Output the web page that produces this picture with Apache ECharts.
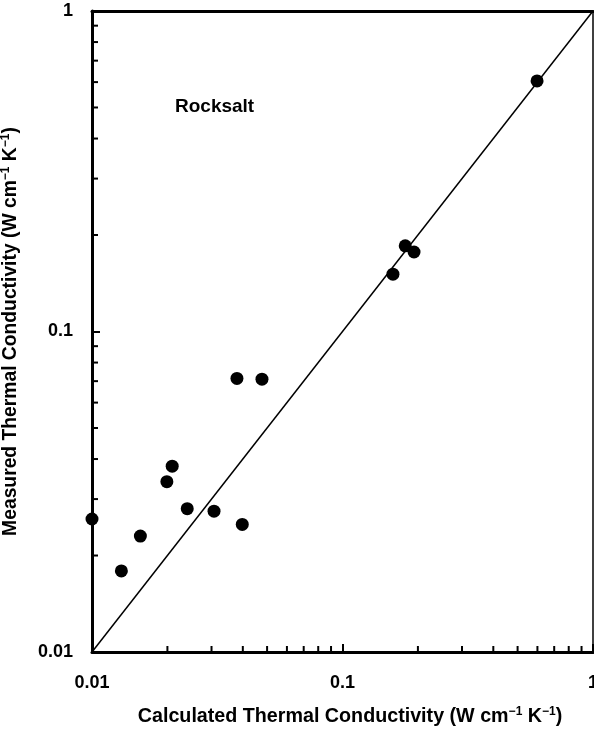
<!DOCTYPE html>
<html>
<head>
<meta charset="utf-8">
<script src="https://cdn.jsdelivr.net/npm/echarts@6/dist/echarts.min.js"></script>
<style>html,body{margin:0;padding:0;background:#fff;}#c{width:594px;height:735px;}</style>
</head>
<body>
<div id="c"></div>
<script>
// Data
const calcK = [0.0100, 0.0131, 0.0156, 0.0199, 0.0209, 0.0240, 0.0307, 0.0379, 0.0398, 0.0477, 0.159, 0.178, 0.193, 0.598];
const measK = [0.0260, 0.0179, 0.0230, 0.0340, 0.0380, 0.0280, 0.0275, 0.0714, 0.0250, 0.0710, 0.151, 0.185, 0.177, 0.605];
const diagX = [0.01, 1];
const diagY = [0.01, 1];
const majorTicks = [0.01, 0.1, 1];
const tickLabels = ['0.01', '0.1', '1'];
const minorTicks = [0.02, 0.03, 0.04, 0.05, 0.06, 0.07, 0.08, 0.09, 0.2, 0.3, 0.4, 0.5, 0.6, 0.7, 0.8, 0.9];

const FONT = '"Liberation Sans", Arial, sans-serif';
const chart = echarts.init(document.getElementById('c'), null, {renderer: 'canvas'});

function labelFmt(v) {
  for (let i = 0; i < majorTicks.length; i++) {
    if (Math.abs(Math.log10(v) - Math.log10(majorTicks[i])) < 1e-6) return tickLabels[i];
  }
  return '';
}

function richName(size) {
  return {
    b: {fontSize: size, fontWeight: 'bold', fontFamily: FONT, color: '#000', lineHeight: 22},
    s: {fontSize: 12, fontWeight: 'bold', fontFamily: FONT, color: '#000', lineHeight: 22, verticalAlign: 'top', padding: [0, 0, 9, 0]}
  };
}

const points = calcK.map((x, i) => [x, measK[i]]);
const diag = diagX.map((x, i) => [x, diagY[i]]);

chart.setOption({
  animation: false,
  backgroundColor: '#fff',
  grid: {left: 92, right: 1, top: 11, bottom: 83, containLabel: false, outerBoundsMode: 'none'},
  xAxis: [{
    type: 'log', logBase: 10, min: 0.01, max: 1, position: 'bottom',
    axisLine: {show: true, onZero: false, lineStyle: {color: '#000', width: 3}},
    axisTick: {show: true, inside: true, length: 8, lineStyle: {color: '#000', width: 2}},
    minorTick: {show: false},
    splitLine: {show: false},
    axisLabel: {fontSize: 18, fontWeight: 'bold', fontFamily: FONT, color: '#000', margin: 22, formatter: labelFmt, showMinLabel: true, showMaxLabel: true},
    name: '{b|Calculated Thermal Conductivity (W cm}{s|−1}{b| K}{s|−1}{b|)}',
    nameLocation: 'middle', nameGap: 54,
    nameTextStyle: {rich: richName(19.7), padding: [0, 0, 0, 15]}
  }, {
    type: 'log', logBase: 10, min: 0.01, max: 1, position: 'top',
    axisLine: {show: true, onZero: false, lineStyle: {color: '#000', width: 3}},
    axisTick: {show: false}, axisLabel: {show: false}, splitLine: {show: false}
  }],
  yAxis: [{
    type: 'log', logBase: 10, min: 0.01, max: 1, position: 'left',
    axisLine: {show: true, onZero: false, lineStyle: {color: '#000', width: 3}},
    axisTick: {show: true, inside: true, length: 8, lineStyle: {color: '#000', width: 2}},
    minorTick: {show: false},
    splitLine: {show: false},
    axisLabel: {fontSize: 18, fontWeight: 'bold', fontFamily: FONT, color: '#000', margin: 19, formatter: labelFmt, showMinLabel: true, showMaxLabel: true},
    name: '{b|Measured Thermal Conductivity (W cm}{s|−1}{b| K}{s|−1}{b|)}',
    nameLocation: 'middle', nameGap: 70, nameRotate: 90,
    nameTextStyle: {rich: richName(19.3)}
  }, {
    type: 'log', logBase: 10, min: 0.01, max: 1, position: 'right',
    axisLine: {show: true, onZero: false, lineStyle: {color: '#000', width: 1.5}},
    axisTick: {show: false}, axisLabel: {show: false}, splitLine: {show: false}
  }],
  graphic: [{
    type: 'text', left: 175, top: 97,
    style: {text: 'Rocksalt', font: 'bold 19px ' + FONT, fill: '#000'}
  }],
  series: [{
    type: 'line', data: diag, symbol: 'none', xAxisIndex: 0, yAxisIndex: 0,
    lineStyle: {color: '#000', width: 1.5}, z: 2
  }, {
    type: 'scatter', data: points, symbol: 'circle', symbolSize: 13, xAxisIndex: 0, yAxisIndex: 0,
    itemStyle: {color: '#000', opacity: 1}, z: 3
  }, {
    type: 'custom', xAxisIndex: 0, yAxisIndex: 0, clip: false, z: 4,
    data: minorTicks.map(v => [v, 0.01]),
    renderItem: function (params, api) {
      const p = api.coord([api.value(0), api.value(1)]);
      return {type: 'line', shape: {x1: p[0], y1: p[1], x2: p[0], y2: p[1] - 6}, style: {stroke: '#000', lineWidth: 2}};
    }
  }, {
    type: 'custom', xAxisIndex: 0, yAxisIndex: 0, clip: false, z: 4,
    data: minorTicks.map(v => [0.01, v]),
    renderItem: function (params, api) {
      const p = api.coord([api.value(0), api.value(1)]);
      return {type: 'line', shape: {x1: p[0], y1: p[1], x2: p[0] + 6, y2: p[1]}, style: {stroke: '#000', lineWidth: 2}};
    }
  }]
});
</script>
</body>
</html>
